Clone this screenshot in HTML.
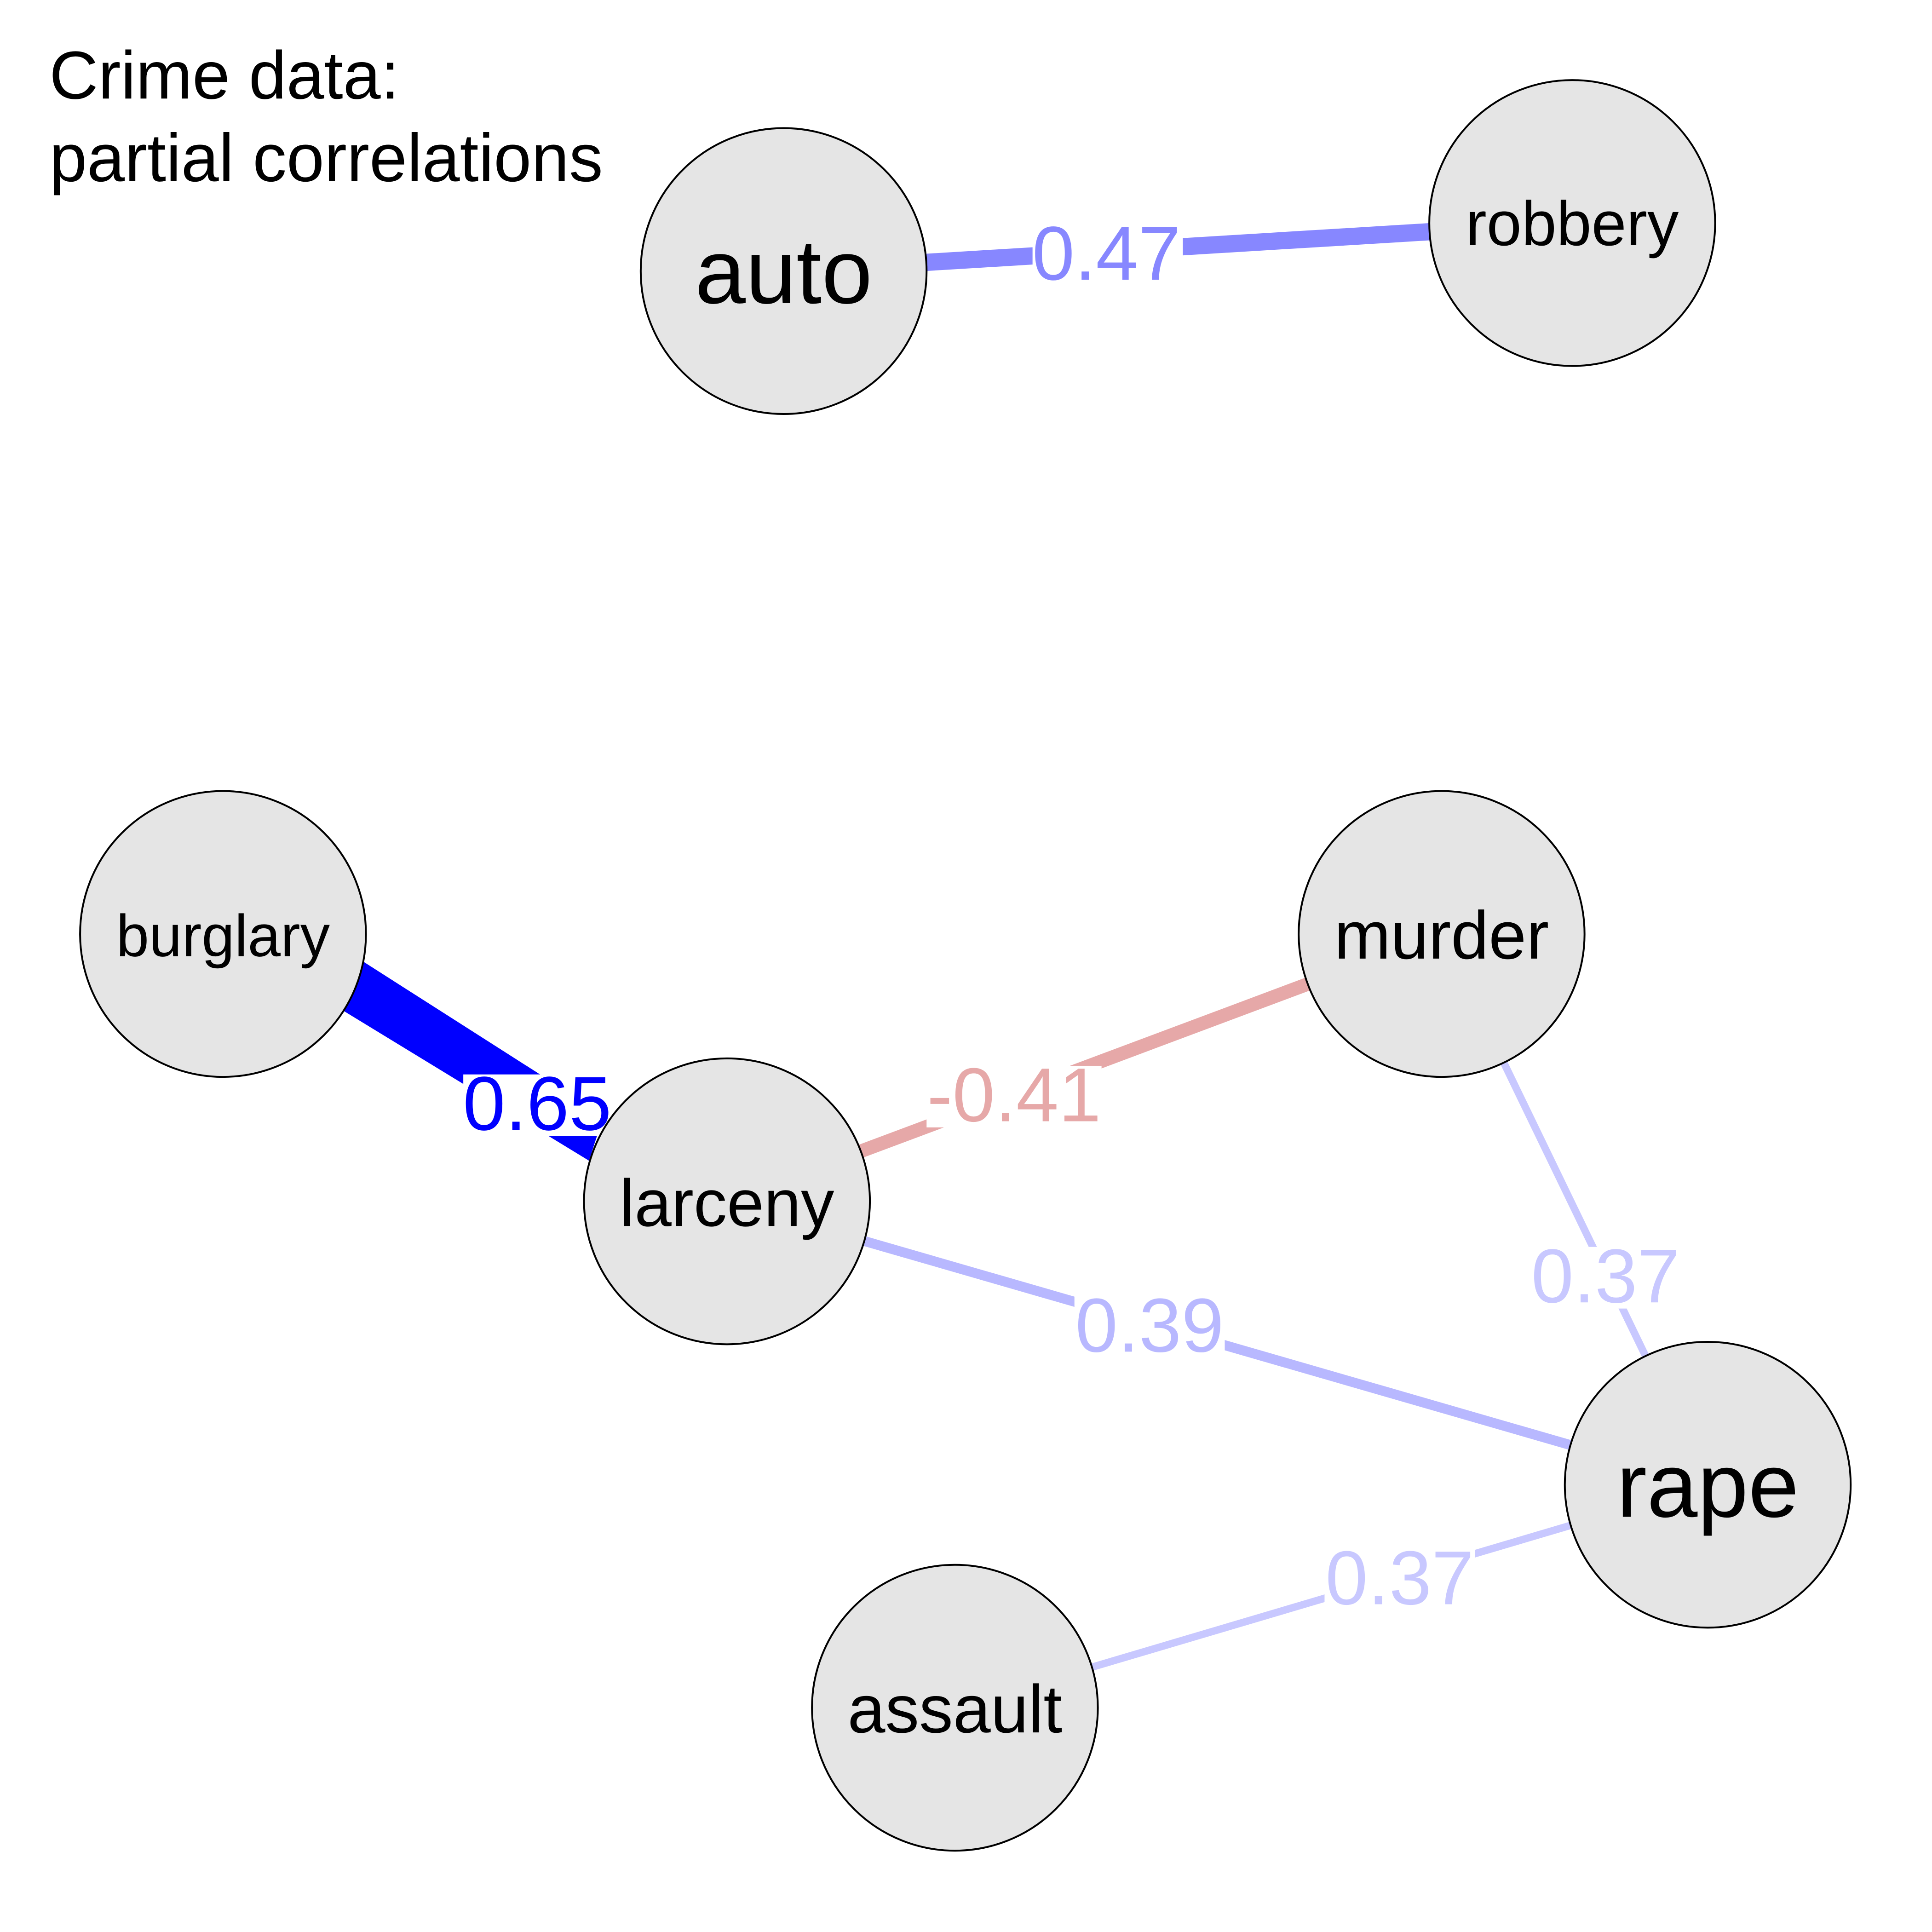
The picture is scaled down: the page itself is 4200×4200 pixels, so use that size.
<!DOCTYPE html>
<html><head><meta charset="utf-8"><style>
html,body{margin:0;padding:0;background:#fff;}
svg{display:block;}
text{font-family:"Liberation Sans",Arial,sans-serif;}
</style></head><body>
<svg width="4200" height="4200" viewBox="0 0 1568 1568" xmlns="http://www.w3.org/2000/svg">
<rect width="1568" height="1568" fill="#fff"/>
<text x="40" y="80" font-size="55">Crime data:</text>
<text x="40" y="147" font-size="55">partial correlations</text>
<!-- edges -->
<line x1="636" y1="220" x2="1276" y2="181" stroke="#8787ff" stroke-width="14"/>
<polygon points="270,815 291,778 490,905 478,942" fill="#0000ff"/>
<line x1="590" y1="975" x2="1170" y2="758" stroke="#e6a8a8" stroke-width="11"/>
<line x1="590" y1="975" x2="1386" y2="1205" stroke="#b8b8ff" stroke-width="8"/>
<line x1="1170" y1="758" x2="1386" y2="1205" stroke="#c8c8ff" stroke-width="6"/>
<line x1="775" y1="1386" x2="1386" y2="1205" stroke="#c8c8ff" stroke-width="6"/>
<!-- edge labels -->
<g font-size="62" text-anchor="middle">
<rect x="838" y="182" width="122" height="50" fill="#fff"/>
<text x="898" y="227" fill="#8787ff">0.47</text>
<rect x="376" y="872" width="120" height="50" fill="#fff"/>
<text x="436" y="917" fill="#0000ff">0.65</text>
<rect x="752" y="865" width="142" height="50" fill="#fff"/>
<text x="823" y="910" fill="#e6a8a8">-0.41</text>
<rect x="872" y="1052" width="122" height="50" fill="#fff"/>
<text x="933" y="1097" fill="#b8b8ff">0.39</text>
<rect x="1242" y="1012" width="122" height="50" fill="#fff"/>
<text x="1303" y="1057" fill="#c8c8ff">0.37</text>
<rect x="1075" y="1257" width="122" height="50" fill="#fff"/>
<text x="1136" y="1302" fill="#c8c8ff">0.37</text>
</g>
<!-- nodes -->
<g fill="#e5e5e5" stroke="#000" stroke-width="1.5">
<circle cx="636" cy="220" r="116"/>
<circle cx="1276" cy="181" r="116"/>
<circle cx="181" cy="758" r="116"/>
<circle cx="1170" cy="758" r="116"/>
<circle cx="590" cy="975" r="116"/>
<circle cx="1386" cy="1205" r="116"/>
<circle cx="775" cy="1386" r="116"/>
</g>
<g text-anchor="middle" fill="#000">
<text x="636" y="246" font-size="74">auto</text>
<text x="1276" y="199" font-size="51">robbery</text>
<text x="181" y="776" font-size="48">burglary</text>
<text x="1170" y="778" font-size="55">murder</text>
<text x="590" y="995" font-size="54">larceny</text>
<text x="1386" y="1231" font-size="74">rape</text>
<text x="775" y="1406" font-size="55">assault</text>
</g>
</svg>
</body></html>
